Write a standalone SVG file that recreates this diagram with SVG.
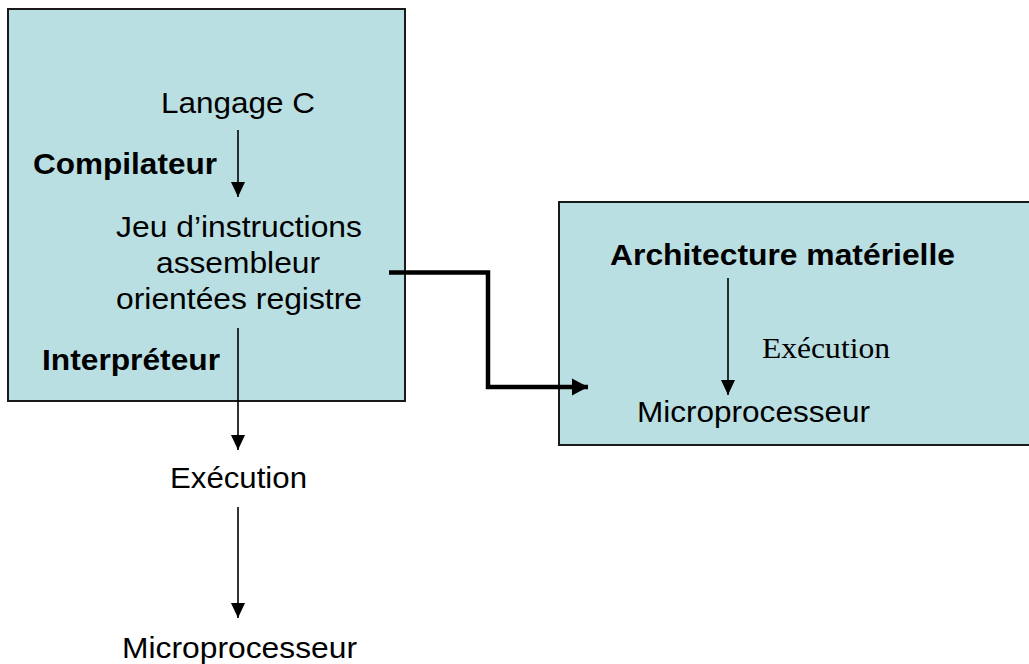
<svg xmlns="http://www.w3.org/2000/svg" width="1029" height="664" viewBox="0 0 1029 664">
<defs>
<style>
.box{fill:#BADFE3;stroke:#1a1a1a;stroke-width:2}
.t{font-family:"Liberation Sans",Arial,sans-serif;font-size:30px;fill:#000}
.b{font-weight:bold}
.s{font-family:"Liberation Serif","Times New Roman",serif;font-size:29px;fill:#000}
.ln{stroke:#000;stroke-width:1.6;fill:none}
.thick{stroke:#000;stroke-width:4.5;fill:none;stroke-linejoin:miter}
</style>
<marker id="ah" markerUnits="userSpaceOnUse" markerWidth="16" markerHeight="16" viewBox="0 0 16 16" refX="15" refY="8" orient="auto">
<path d="M0,1 L15,8 L0,15 Z" fill="#000"/>
</marker>
<marker id="ahb" markerUnits="userSpaceOnUse" markerWidth="17" markerHeight="18" viewBox="0 0 17 18" refX="16" refY="9" orient="auto">
<path d="M0,0.5 L16,9 L0,17.5 Z" fill="#000"/>
</marker>
</defs>
<rect width="1029" height="664" fill="#fff"/>
<g id="box-left">
<rect class="box" x="8" y="9" width="397" height="392"/>
</g>
<g id="box-right">
<rect class="box" x="559" y="202" width="480" height="243"/>
</g>
<g id="connectors">
<line class="ln" x1="238" y1="130" x2="238" y2="197" marker-end="url(#ah)"/>
<line class="ln" x1="238" y1="328" x2="238" y2="450" marker-end="url(#ah)"/>
<line class="ln" x1="238" y1="507" x2="238" y2="618" marker-end="url(#ah)"/>
<line class="ln" x1="728" y1="278" x2="728" y2="395" marker-end="url(#ah)"/>
<path class="thick" d="M389,272.5 H488 V387 H588" marker-end="url(#ahb)"/>
</g>
<g id="n-langage"><text class="t" x="161" y="113" textLength="154" lengthAdjust="spacingAndGlyphs">Langage C</text></g>
<g id="n-compilateur"><text class="t b" x="33" y="174" textLength="184" lengthAdjust="spacingAndGlyphs">Compilateur</text></g>
<g id="n-jeu">
<text class="t" x="116" y="237" textLength="246" lengthAdjust="spacingAndGlyphs">Jeu d’instructions</text>
<text class="t" x="156" y="273" textLength="164" lengthAdjust="spacingAndGlyphs">assembleur</text>
<text class="t" x="116" y="309" textLength="246" lengthAdjust="spacingAndGlyphs">orientées registre</text>
</g>
<g id="n-interpreteur"><text class="t b" x="42" y="370" textLength="178" lengthAdjust="spacingAndGlyphs">Interpréteur</text></g>
<g id="n-execution"><text class="t" x="170" y="488" textLength="137" lengthAdjust="spacingAndGlyphs">Exécution</text></g>
<g id="n-micro"><text class="t" x="122" y="658" textLength="235" lengthAdjust="spacingAndGlyphs">Microprocesseur</text></g>
<g id="n-archi"><text class="t b" x="610" y="265" textLength="345" lengthAdjust="spacingAndGlyphs">Architecture matérielle</text></g>
<g id="n-exec2"><text class="s" x="762" y="358" textLength="128" lengthAdjust="spacingAndGlyphs">Exécution</text></g>
<g id="n-micro2"><text class="t" x="637" y="422" textLength="233" lengthAdjust="spacingAndGlyphs">Microprocesseur</text></g>
</svg>
